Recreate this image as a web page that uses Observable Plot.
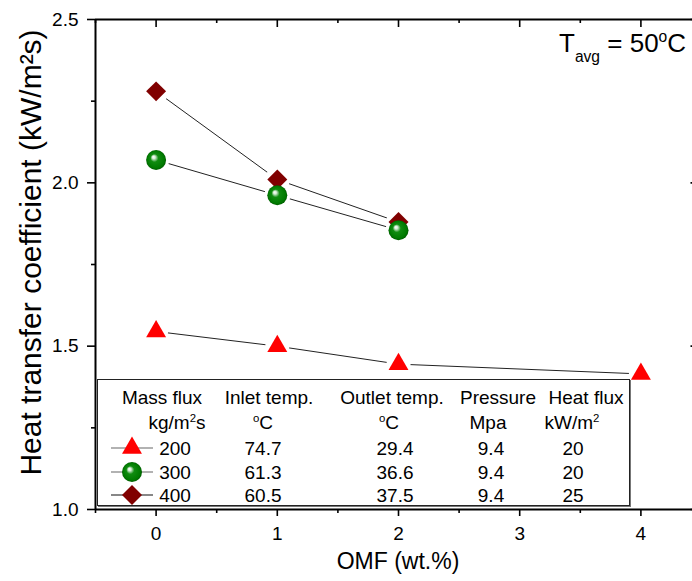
<!DOCTYPE html>
<html><head><meta charset="utf-8">
<script src="https://cdn.jsdelivr.net/npm/d3@7"></script>
<script src="https://cdn.jsdelivr.net/npm/@observablehq/plot@0.6"></script>
<style>
body{margin:0;background:#fff;font-family:"Liberation Sans",Arial,sans-serif;}
#wrap{position:relative;width:692px;height:581px;overflow:hidden;}
#wrap svg.plotsvg{max-width:none;display:block;}
.c{position:absolute;transform:translate(-50%,-50%);white-space:nowrap;line-height:1;font-size:19px;color:#000;}
.sp{font-size:60%;position:relative;top:-0.6em;}
#legend{position:absolute;left:97px;top:379px;width:531px;height:125px;border:1px solid #222;background:#fff;box-shadow:1px 1px 0 #777;}
#tavg{position:absolute;left:559px;top:30px;font-size:26px;white-space:nowrap;line-height:1;}
#tavg .sub{font-size:60%;position:relative;top:0.62em;}
#tavg .sup{font-size:60%;position:relative;top:-0.65em;}
.lm{position:absolute;left:108px;}
</style></head><body><div id="wrap"></div>
<script>
// ---- data ----
const omf200 = [0, 1, 2, 4];
const htc200 = [1.545, 1.50, 1.445, 1.415];
const omf300 = [0, 1, 2];
const htc300 = [2.07, 1.962, 1.855];
const omf400 = [0, 1, 2];
const htc400 = [2.28, 2.01, 1.88];

const xTicks = [0, 1, 2, 3, 4];
const xMinor = [-0.5, 0.5, 1.5, 2.5, 3.5, 4.5];
const yTicks = [1.0, 1.5, 2.0, 2.5];
const yMinor = [1.25, 1.75, 2.25];

const massFlux = ["200", "300", "400"];
const inletT = ["74.7", "61.3", "60.5"];
const outletT = ["29.4", "36.6", "37.5"];
const pressure = ["9.4", "9.4", "9.4"];
const heatFlux = ["20", "20", "25"];

const xTitle = "OMF (wt.%)";
const yTitle = "Heat transfer coefficient (kW/m²s)";

const s200 = omf200.map((x, i) => ({x, y: htc200[i]}));
const s300 = omf300.map((x, i) => ({x, y: htc300[i]}));
const s400 = omf400.map((x, i) => ({x, y: htc400[i]}));

const W = 692, H = 581, mL = 95, mT = 19, mB = 72;
const frameH = H - mT - mB;

const plot = Plot.plot({
  width: W, height: H,
  marginLeft: mL, marginTop: mT, marginBottom: mB, marginRight: 0,
  x: {domain: [-0.5, 4.5], range: [95, 701]},
  y: {domain: [1.0, 2.5]},
  style: {fontFamily: '"Liberation Sans", Arial, sans-serif', background: "white", color: "black"},
  marks: [
    // connecting lines
    Plot.line(s200, {x: "x", y: "y", stroke: "#222", strokeWidth: 1}),
    Plot.line(s300, {x: "x", y: "y", stroke: "#222", strokeWidth: 1}),
    Plot.line(s400, {x: "x", y: "y", stroke: "#222", strokeWidth: 1}),
    // white halos to create gaps
    Plot.dot(s200, {x: "x", y: "y", r: 12, fill: "white"}),
    Plot.dot(s400, {x: "x", y: "y", r: 12.5, fill: "white"}),
    Plot.dot(s300, {x: "x", y: "y", r: 13, fill: "white"}),
    // markers
    Plot.dot(s200, {x: "x", y: "y", symbol: "triangle", r: 7.4, fill: "#ff0000"}),
    Plot.dot(s400, {x: "x", y: "y", symbol: "diamond2", r: 9, fill: "#800000"}),
    Plot.dot(s300, {x: "x", y: "y", r: 10, fill: "url(#sphereG)", ariaLabel: "sphere"}),
    // frame lines
    Plot.ruleX([-0.5], {x: d => d, stroke: "black", strokeWidth: 2}),
    Plot.ruleY([1.0], {y: d => d, stroke: "black", strokeWidth: 2}),
    Plot.ruleY([2.5], {y: d => d, stroke: "black", strokeWidth: 2}),
    Plot.ruleX([4.5], {x: d => d, stroke: "black", strokeWidth: 2}),
    // axes
    Plot.axisY(yTicks, {anchor: "left", tickSize: 8, tickPadding: 9, strokeWidth: 1.6, fontSize: 19, tickFormat: d3.format(".1f"), label: null}),
    Plot.axisY(yMinor, {anchor: "left", tickSize: 4, strokeWidth: 1.6, tickFormat: () => "", label: null}),
    Plot.axisX(xTicks, {anchor: "bottom", tickSize: 7, tickPadding: 10, strokeWidth: 1.6, fontSize: 19, tickFormat: d3.format("d"), label: null}),
    Plot.axisX(xMinor, {anchor: "bottom", tickSize: 4, strokeWidth: 1.6, tickFormat: () => "", label: null}),
    // inward ticks on top
    Plot.ruleX(xTicks, {x: d => d, insetBottom: frameH - 8, stroke: "black", strokeWidth: 1.6}),
    Plot.ruleX(xMinor, {x: d => d, insetBottom: frameH - 4, stroke: "black", strokeWidth: 1.6}),
    // inward ticks on right (axis beyond visible edge)
    Plot.ruleY(yTicks, {y: d => d, insetLeft: (W - mL) - 1.5, stroke: "black", strokeWidth: 1.6}),
    // titles
    Plot.text([xTitle], {frameAnchor: "bottom", dy: 59, dx: 4, fontSize: 23, textAnchor: "middle"}),
    Plot.text([yTitle], {frameAnchor: "left", rotate: -90, dx: -64, dy: -12, fontSize: 30, textAnchor: "middle", ariaLabel: "ytitle"})
  ]
});
plot.classList.add("plotsvg");

// real superscript in the y title
plot.querySelectorAll('g[aria-label="ytitle"] text').forEach(t => {
  const s = t.textContent;
  const k = s.indexOf("²");
  if (k >= 0) {
    t.textContent = "";
    t.insertAdjacentHTML("beforeend",
      `<tspan>${s.slice(0, k)}</tspan><tspan dy="-11" font-size="18">2</tspan><tspan dy="11">${s.slice(k + 1)}</tspan>`);
  }
});

// gradient for spheres
function sphereDefs(id) {
  return `<defs><radialGradient id="${id}" cx="0.5" cy="0.5" r="0.5" fx="0.36" fy="0.34">
    <stop offset="0" stop-color="#ffffff"/>
    <stop offset="0.15" stop-color="#d8eed8"/>
    <stop offset="0.4" stop-color="#108c10"/>
    <stop offset="0.85" stop-color="#007a00"/>
    <stop offset="1" stop-color="#005c00"/>
  </radialGradient></defs>`;
}
plot.insertAdjacentHTML("afterbegin", sphereDefs("sphereG"));
plot.querySelectorAll('g[aria-label="sphere"]').forEach(g => {
  g.setAttribute("fill", "url(#sphereG)");
  g.querySelectorAll("circle,path").forEach(e => e.setAttribute("fill", "url(#sphereG)"));
});

const wrap = document.getElementById("wrap");
wrap.appendChild(plot);

// T_avg annotation
wrap.insertAdjacentHTML("beforeend", `<div id="tavg">T<span class="sub">avg</span> = 50<span class="sup">o</span>C</div>`);

// legend table
const lg = [];
lg.push(`<div id="legend"></div>`);
const heads = [["Mass flux", 162], ["Inlet temp.", 269], ["Outlet temp.", 392], ["Pressure", 498], ["Heat flux", 586]];
heads.forEach(([t, x]) => lg.push(`<div class="c" style="left:${x}px;top:397px">${t}</div>`));
const units = [[`kg/m<span class="sp">2</span>s`, 177], [`<span class="sp">o</span>C`, 263], [`<span class="sp">o</span>C`, 389], ["Mpa", 488], [`kW/m<span class="sp">2</span>`, 572]];
units.forEach(([t, x]) => lg.push(`<div class="c" style="left:${x}px;top:422px">${t}</div>`));
const rowY = [448, 472, 495];
const cols = [[massFlux, 175], [inletT, 263], [outletT, 395], [pressure, 491], [heatFlux, 573]];
rowY.forEach((y, i) => {
  cols.forEach(([arr, x]) => lg.push(`<div class="c" style="left:${x}px;top:${y}px">${arr[i]}</div>`));
});
// legend markers
const tri = d3.symbol(d3.symbolTriangle, Math.PI * 7.4 * 7.4)();
const dia = d3.symbol(d3.symbolDiamond2, Math.PI * 9 * 9)();
const mk = [
  `<line x1="3" y1="12" x2="45" y2="12" stroke="#666" stroke-width="1.2"/><path d="${tri}" transform="translate(24,12)" fill="#ff0000"/>`,
  `<line x1="3" y1="12" x2="45" y2="12" stroke="#666" stroke-width="1.2"/><circle cx="24" cy="12" r="10" fill="url(#sphereL)"/>`,
  `<line x1="3" y1="12" x2="45" y2="12" stroke="#111" stroke-width="1.2"/><path d="${dia}" transform="translate(24,12)" fill="#800000"/>`
];
rowY.forEach((y, i) => {
  lg.push(`<svg class="lm" width="50" height="24" style="top:${y - 12}px">${i === 1 ? sphereDefs("sphereL") : ""}${mk[i]}</svg>`);
});
wrap.insertAdjacentHTML("beforeend", lg.join(""));
</script>
</body></html>
